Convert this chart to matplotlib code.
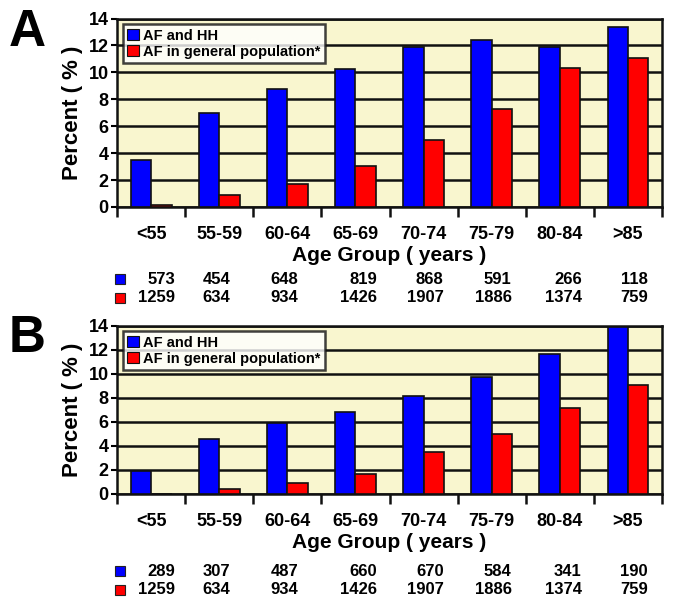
import numpy as np
import matplotlib
matplotlib.use("Agg")
import matplotlib.pyplot as plt
import matplotlib.transforms as mtransforms

plt.rcParams['font.family'] = ['Liberation Sans', 'DejaVu Sans']
plt.rcParams['font.weight'] = 'bold'
plt.rcParams['axes.labelweight'] = 'bold'

# Data
age_groups = ['<55', '55-59', '60-64', '65-69', '70-74', '75-79', '80-84', '>85']
series_names = ['AF and HH', 'AF in general population*']

a_hh = [3.5, 7.0, 8.8, 10.25, 11.9, 12.4, 11.9, 13.35]
a_gen = [0.15, 0.87, 1.7, 3.05, 5.0, 7.27, 10.33, 11.1]
a_n_hh = [573, 454, 648, 819, 868, 591, 266, 118]
a_n_gen = [1259, 634, 934, 1426, 1907, 1886, 1374, 759]

b_hh = [1.9, 4.6, 5.92, 6.83, 8.13, 9.75, 11.6, 13.85]
b_gen = [0.0, 0.41, 0.94, 1.63, 3.46, 4.98, 7.16, 9.05]
b_n_hh = [289, 307, 487, 660, 670, 584, 341, 190]
b_n_gen = [1259, 634, 934, 1426, 1907, 1886, 1374, 759]

W, H = 675, 614
BLUE = '#0000ff'
RED = '#ff0000'
BG = '#f9f6cf'
# right edge of each count column, pixels right of the group centre
count_shift = [24, 11, 11, 22, 20, 20, 22, 20]

fig = plt.figure(figsize=(W / 100, H / 100), dpi=100)


def fx(px):
    return px / W


def fy(py):
    return 1 - py / H


def panel(letter, hh, gen, n_hh, n_gen, top, bottom, lab_y, row1, row2):
    ax = fig.add_axes([fx(117), fy(bottom), fx(662) - fx(117), fy(top) - fy(bottom)])
    ax.set_facecolor(BG)
    x = np.arange(len(age_groups))
    w = 0.3
    ax.bar(x - w / 2, hh, w, color=BLUE, edgecolor='#111111', linewidth=1.2,
           label=series_names[0], zorder=3)
    ax.bar(x + w / 2, gen, w, color=RED, edgecolor='#111111', linewidth=1.2,
           label=series_names[1], zorder=3)
    ax.set_xlim(-0.5, len(age_groups) - 0.5)
    ax.set_ylim(0, 14)
    ax.set_yticks(range(0, 15, 2))
    ax.yaxis.grid(True, color='#111111', linewidth=1.8, zorder=1)
    ax.set_axisbelow(True)
    ax.tick_params(axis='y', length=4, width=1.5, pad=2, labelsize=13)
    ax.set_xticks(x)
    ax.set_xticklabels(age_groups)
    ax.tick_params(axis='x', length=0, pad=14, labelsize=13)
    ax.set_xticks(np.arange(-0.5, len(age_groups)), minor=True)
    ax.tick_params(axis='x', which='minor', length=7, width=1.8, color='#111111')
    for s in ax.spines.values():
        s.set_linewidth(1.8)
        s.set_color('#111111')
    ax.set_ylabel('Percent ( % )', fontsize=16, labelpad=4)
    ax.set_xlabel('Age Group ( years )', fontsize=15, labelpad=2)
    leg = ax.legend(loc='upper left', bbox_to_anchor=(0.0, 1.0), fontsize=10.5,
                    frameon=True, fancybox=False, handlelength=0.8, handleheight=0.8,
                    handletextpad=0.3, borderpad=0.3, labelspacing=0.15,
                    borderaxespad=0.4)
    leg.get_frame().set_edgecolor('#111111')
    leg.get_frame().set_linewidth(1.8)
    leg.get_frame().set_facecolor('white')
    for p in leg.get_patches():
        p.set_edgecolor('#111111')
        p.set_linewidth(0.8)

    fig.text(fx(9), fy(lab_y), letter, fontsize=37, fontweight='bold',
             va='baseline', ha='left')

    tr = mtransforms.blended_transform_factory(ax.transData, fig.transFigure)
    for i in range(len(age_groups)):
        off = mtransforms.offset_copy(tr, fig=fig, x=count_shift[i], y=0, units='dots')
        ax.text(i, fy(row1), str(n_hh[i]), transform=off, ha='right', va='center',
                fontsize=12)
        ax.text(i, fy(row2), str(n_gen[i]), transform=off, ha='right', va='center',
                fontsize=12)
    for ry, c in ((row1, BLUE), (row2, RED)):
        fig.patches.append(plt.Rectangle((fx(115), fy(ry + 5)), fx(10), 10 / H,
                                         facecolor=c, edgecolor='#222222',
                                         linewidth=0.8, transform=fig.transFigure,
                                         figure=fig))
    return ax


panel('A', a_hh, a_gen, a_n_hh, a_n_gen, 18.5, 207, 46, 279, 298)
panel('B', b_hh, b_gen, b_n_hh, b_n_gen, 325.5, 494, 352, 571, 590)

fig.savefig('out.png', dpi=100)
